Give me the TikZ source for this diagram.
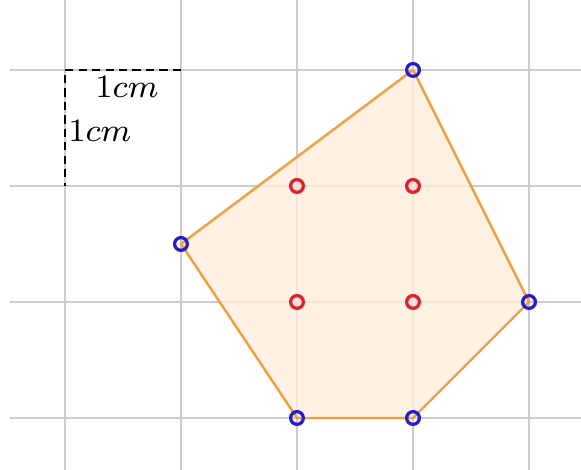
\documentclass[tikz,border=0pt]{standalone}
\usetikzlibrary{positioning}
\definecolor{gridgray}{RGB}{204,204,204}
\definecolor{hullline}{RGB}{240,160,64}
\definecolor{hullfill}{RGB}{253,237,221}
\definecolor{ptblue}{RGB}{40,30,200}
\definecolor{ptred}{RGB}{222,34,44}
\tikzset{
  gridline/.style={gridgray, line width=0.65pt},
  hullpt/.style={circle, draw=ptblue, line width=0.8pt, minimum size=0.11cm, inner sep=0pt},
  innerpt/.style={circle, draw=ptred, line width=0.8pt, minimum size=0.11cm, inner sep=0pt, fill=ptred!15},
  unitedge/.style={black, line width=0.55pt, dash pattern=on 2pt off 1.3pt}
}
\begin{document}
\begin{tikzpicture}[font=\footnotesize]
  \useasboundingbox (-0.560,-0.448) rectangle (4.448,3.603);
  % Grid
  \foreach \x in {0,...,4} \draw[gridline] (\x,-0.448) -- (\x,3.603);
  \foreach \y in {0,...,3} \draw[gridline] (-0.47,\y) -- (4.448,\y);
  % Lattice points
  \coordinate (A) at (3,3);
  \coordinate (B) at (4,1);
  \coordinate (C) at (3,0);
  \coordinate (D) at (2,0);
  \coordinate (E) at (1,1.5);
  % Convex hull
  \fill[hullfill, fill opacity=0.8] (A) -- (B) -- (C) -- (D) -- (E) -- cycle;
  \draw[hullline, line width=0.6pt] (A) -- (B) -- (C) -- (D) -- (E) -- (A);
  % Unit square
  \coordinate (U0) at (0,3);
  \coordinate (U1) at (1,3);
  \coordinate (U2) at (0,2);
  \draw[unitedge] (U1) -- (U0) -- (U2);
  \node (lx) at (0.534,2.853) {$1cm$};
  \node (ly) at (0.30,2.474) {$1cm$};
  % Vertices
  \foreach \p in {A,B,C,D,E} \node[hullpt] (v\p) at (\p) {};
  % Interior points
  \node[innerpt] (i1) at (2,2) {};
  \node[innerpt] (i2) at (3,2) {};
  \node[innerpt] (i3) at (2,1) {};
  \node[innerpt] (i4) at (3,1) {};
\end{tikzpicture}
\end{document}
